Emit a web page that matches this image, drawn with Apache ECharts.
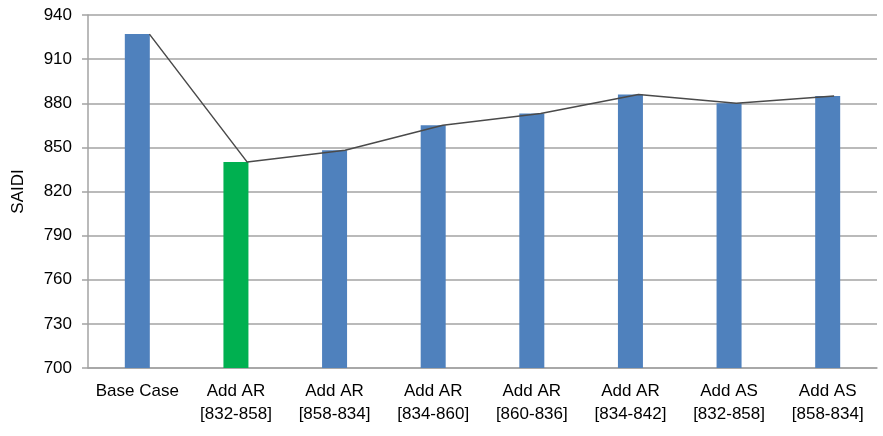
<!DOCTYPE html>
<html>
<head>
<meta charset="utf-8">
<script src="https://cdn.jsdelivr.net/npm/echarts@6/dist/echarts.min.js"></script>
<style>
  html, body { margin: 0; padding: 0; background: #fff; }
  #chart { width: 883px; height: 436px; }
</style>
</head>
<body>
<div id="chart"></div>
<script>
// categories and values
var categories = ['Base Case', 'Add AR\n[832-858]', 'Add AR\n[858-834]', 'Add AR\n[834-860]',
                  'Add AR\n[860-836]', 'Add AR\n[834-842]', 'Add AS\n[832-858]', 'Add AS\n[858-834]'];
var saidi = [927, 840, 848, 865, 873, 886, 880, 885];
var bestIndex = 1; // the green bar
var yTicks = [700, 730, 760, 790, 820, 850, 880, 910, 940];

var font = 'Liberation Sans, Arial, sans-serif';
var gridLeft = 88, gridRight = 6, gridTop = 15, gridBottom = 68;
var barW = 25;

var chart = echarts.init(document.getElementById('chart'));

var yBase = {
  type: 'value',
  min: yTicks[0],
  max: yTicks[yTicks.length - 1],
  interval: 30
};

chart.setOption({
  animation: false,
  grid: [
    { left: gridLeft, right: gridRight, top: gridTop, bottom: gridBottom },
    // line sits on the right edge of each bar, so its grid is shifted by half a bar
    { left: gridLeft + barW / 2, right: gridRight - barW / 2, top: gridTop, bottom: gridBottom }
  ],
  xAxis: [
    {
      type: 'category',
      data: categories,
      gridIndex: 0,
      axisLine: { lineStyle: { color: '#a3a3a3', width: 1.5 } },
      axisTick: { show: false },
      axisLabel: { color: '#000', fontFamily: font, fontSize: 17, margin: 12, lineHeight: 23, interval: 0 }
    },
    {
      type: 'category',
      data: categories,
      gridIndex: 1,
      show: false
    }
  ],
  yAxis: [
    Object.assign({}, yBase, {
      gridIndex: 0,
      name: 'SAIDI',
      nameLocation: 'middle',
      nameGap: 61,
      nameTextStyle: { color: '#000', fontFamily: font, fontSize: 17 },
      axisLine: { show: true, lineStyle: { color: '#a3a3a3', width: 1.5 } },
      axisTick: { show: true, length: 6, lineStyle: { color: '#a3a3a3', width: 1.5 } },
      axisLabel: { color: '#000', fontFamily: font, fontSize: 17, margin: 16 },
      splitLine: { lineStyle: { color: '#a3a3a3', width: 1.5 } }
    }),
    Object.assign({}, yBase, { gridIndex: 1, show: false, splitLine: { show: false } })
  ],
  series: [
    {
      type: 'bar',
      xAxisIndex: 0,
      yAxisIndex: 0,
      barWidth: barW,
      data: saidi.map(function (v, i) {
        return { value: v, itemStyle: { color: i === bestIndex ? '#00b050' : '#4f81bd' } };
      })
    },
    {
      type: 'line',
      xAxisIndex: 1,
      yAxisIndex: 1,
      data: saidi,
      symbol: 'none',
      lineStyle: { color: '#4a4a4a', width: 1.5 },
      z: 3
    }
  ]
});
</script>
</body>
</html>
